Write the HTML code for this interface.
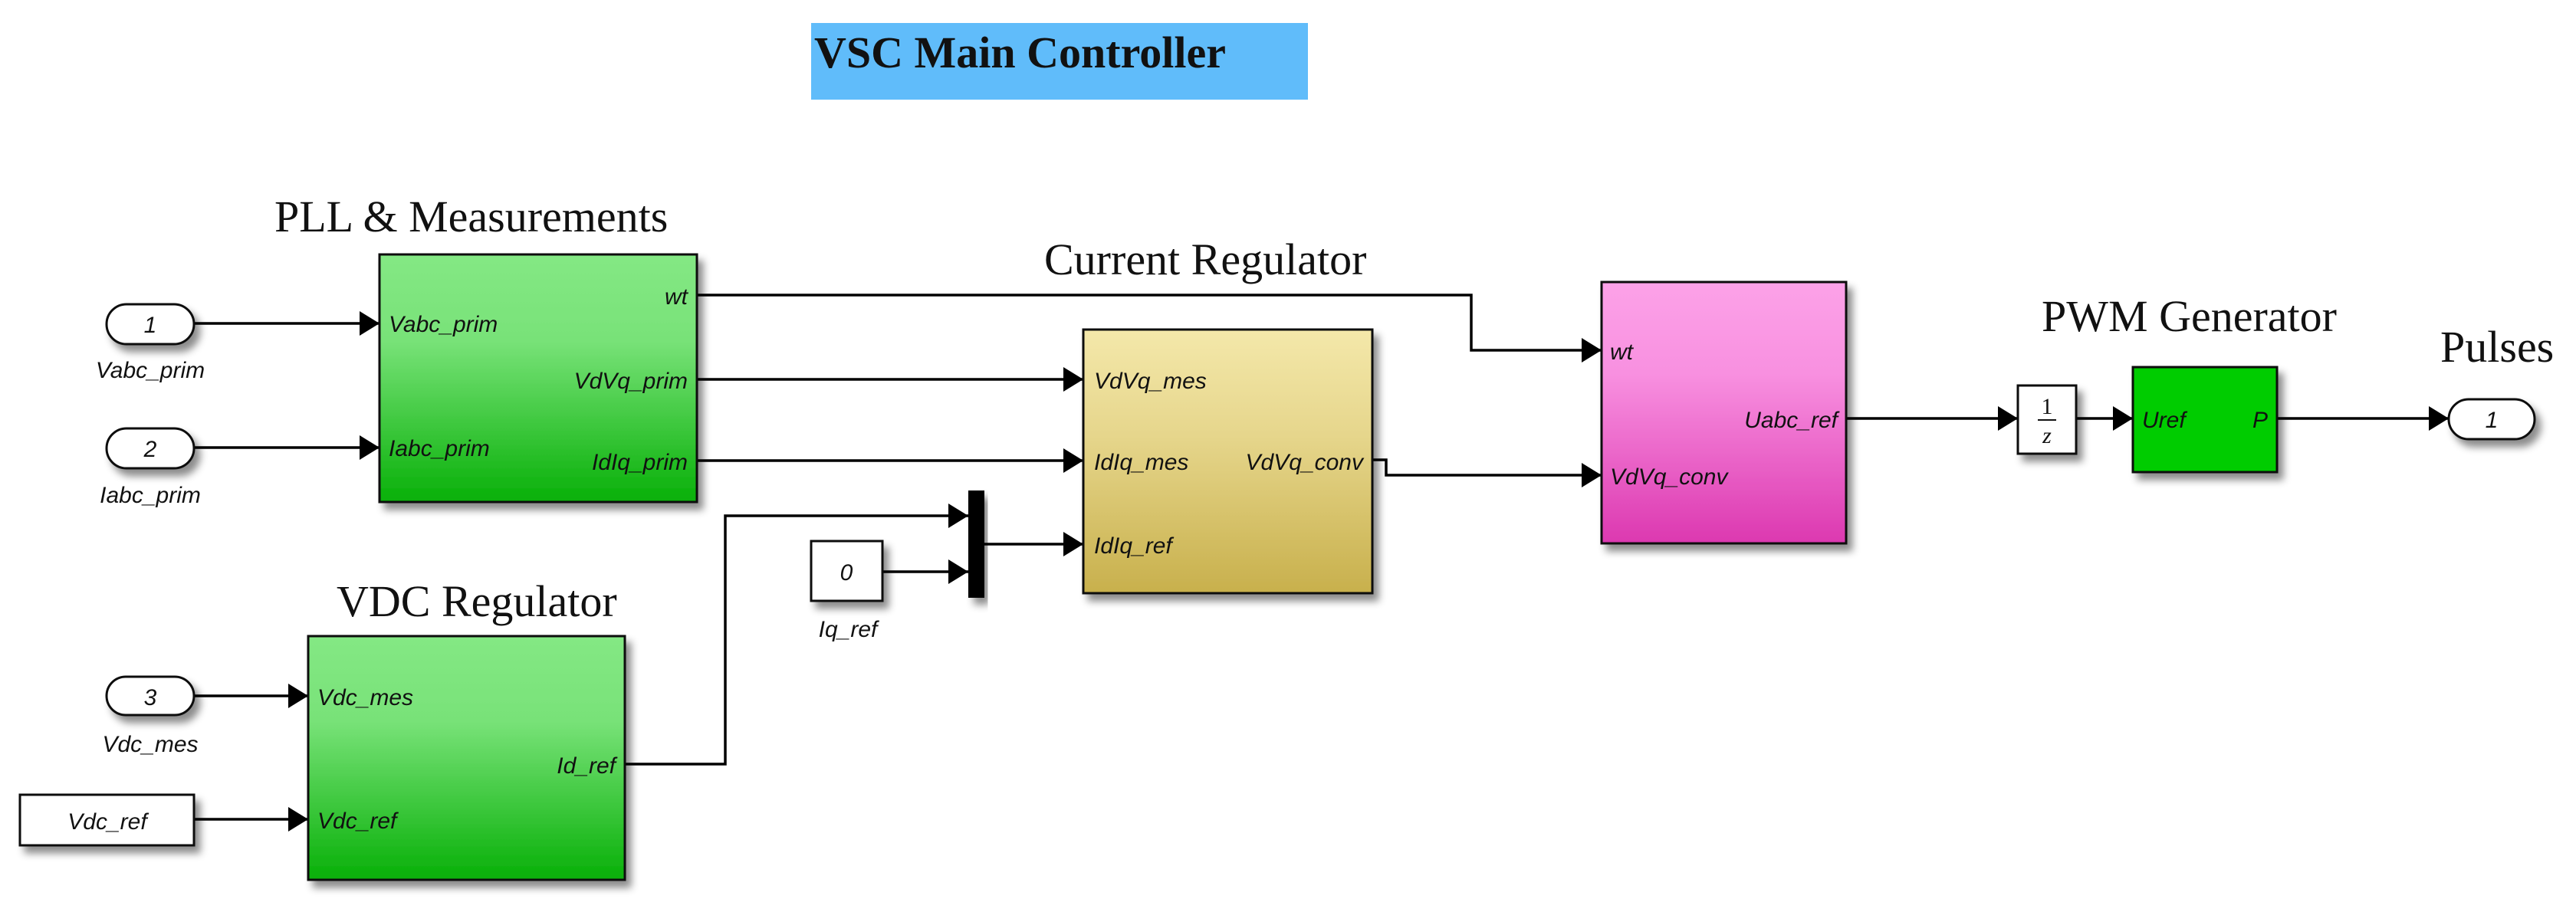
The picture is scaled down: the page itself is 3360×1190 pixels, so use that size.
<!DOCTYPE html>
<html><head><meta charset="utf-8"><style>
html,body{margin:0;padding:0;background:#fff;}
svg{display:block;}
.p{font-family:"Liberation Sans",sans-serif;font-style:italic;font-size:30px;fill:#111;}
.t{font-family:"Liberation Serif",serif;font-size:58px;fill:#111;}
</style></head><body>
<svg width="3360" height="1190" viewBox="0 0 3360 1190" xmlns="http://www.w3.org/2000/svg">
<defs>
<linearGradient id="g" x1="0" y1="0" x2="0" y2="1"><stop offset="0" stop-color="#84e884"/><stop offset="0.35" stop-color="#78e278"/><stop offset="1" stop-color="#08b008"/></linearGradient>
<linearGradient id="y" x1="0" y1="0" x2="0" y2="1"><stop offset="0" stop-color="#f4e8aa"/><stop offset="0.4" stop-color="#e6d68c"/><stop offset="1" stop-color="#c8b04c"/></linearGradient>
<linearGradient id="m" x1="0" y1="0" x2="0" y2="1"><stop offset="0" stop-color="#fca2e8"/><stop offset="0.35" stop-color="#f890e0"/><stop offset="1" stop-color="#dc38b0"/></linearGradient>
<filter id="s" x="-10%" y="-10%" width="130%" height="130%"><feDropShadow dx="7" dy="9" stdDeviation="5" flood-color="#000" flood-opacity="0.45"/></filter>
</defs>
<style>.w{fill:none;stroke:#000;stroke-width:3.5;}</style>
<rect x="1058" y="30" width="648" height="100" fill="#60bcfa"/>
<text x="1062" y="88" font-family="Liberation Serif,serif" font-weight="bold" font-size="58" fill="#111">VSC Main Controller</text>

<text class="t" x="358" y="302">PLL &amp; Measurements</text>
<text class="t" x="1362" y="358">Current Regulator</text>
<text class="t" x="439" y="804">VDC Regulator</text>
<text class="t" x="2663" y="432">PWM Generator</text>
<text class="t" x="3183" y="472">Pulses</text>

<g class="w">
<path d="M253 422 H495" />
<path d="M253 584 H495" />
<path d="M909 385 H1919 V457 H2089"/>
<path d="M909 495 H1413"/>
<path d="M909 601 H1413"/>
<path d="M1284 710 H1413"/>
<path d="M815 997 H946 V673 H1263"/>
<path d="M1151 746 H1263"/>
<path d="M1790 600 H1808 V620 H2089"/>
<path d="M2408 546 H2632"/>
<path d="M2708 546 H2782"/>
<path d="M2970 546 H3194"/>
<path d="M253 908 H402"/>
<path d="M253 1069 H402"/>
</g>
<g fill="#000">
<path d="M495 422 l-26 -16 v32z"/>
<path d="M495 584 l-26 -16 v32z"/>
<path d="M1413 495 l-26 -16 v32z"/>
<path d="M1413 601 l-26 -16 v32z"/>
<path d="M1413 710 l-26 -16 v32z"/>
<path d="M1263 673 l-26 -16 v32z"/>
<path d="M1263 746 l-26 -16 v32z"/>
<path d="M2089 457 l-26 -16 v32z"/>
<path d="M2089 620 l-26 -16 v32z"/>
<path d="M2632 546 l-26 -16 v32z"/>
<path d="M2782 546 l-26 -16 v32z"/>
<path d="M3194 546 l-26 -16 v32z"/>
<path d="M402 908 l-26 -16 v32z"/>
<path d="M402 1069 l-26 -16 v32z"/>
</g>

<g stroke="#111" stroke-width="3" filter="url(#s)">
<rect x="495" y="332" width="414" height="323" fill="url(#g)"/>
<rect x="402" y="830" width="413" height="318" fill="url(#g)"/>
<rect x="1413" y="430" width="377" height="344" fill="url(#y)"/>
<rect x="2089" y="368" width="319" height="341" fill="url(#m)"/>
<rect x="2782" y="479" width="188" height="137" fill="#00cc00"/>
<rect x="2632" y="503" width="76" height="89" fill="#fff"/>
<rect x="1058" y="706" width="93" height="78" fill="#fff"/>
<rect x="26" y="1037" width="227" height="66" fill="#fff"/>
<rect x="139" y="397" width="114" height="52" rx="26" fill="#fff"/>
<rect x="139" y="559" width="114" height="52" rx="26" fill="#fff"/>
<rect x="139" y="883" width="114" height="50" rx="25" fill="#fff"/>
<rect x="3194" y="521" width="112" height="52" rx="26" fill="#fff"/>
</g>
<rect x="1263" y="640" width="21" height="140" fill="#000" filter="url(#s)"/>

<g class="p">
<text x="507" y="433">Vabc_prim</text>
<text x="507" y="595">Iabc_prim</text>
<text x="897" y="397" text-anchor="end">wt</text>
<text x="897" y="507" text-anchor="end">VdVq_prim</text>
<text x="897" y="613" text-anchor="end">IdIq_prim</text>
<text x="1427" y="507">VdVq_mes</text>
<text x="1427" y="613">IdIq_mes</text>
<text x="1427" y="722">IdIq_ref</text>
<text x="1778" y="613" text-anchor="end">VdVq_conv</text>
<text x="2100" y="469">wt</text>
<text x="2100" y="632">VdVq_conv</text>
<text x="2397" y="558" text-anchor="end">Uabc_ref</text>
<text x="2794" y="558">Uref</text>
<text x="2958" y="558" text-anchor="end">P</text>
<text x="414" y="920">Vdc_mes</text>
<text x="414" y="1081">Vdc_ref</text>
<text x="803" y="1009" text-anchor="end">Id_ref</text>
<text x="196" y="434" text-anchor="middle">1</text>
<text x="196" y="596" text-anchor="middle">2</text>
<text x="196" y="920" text-anchor="middle">3</text>
<text x="3250" y="558" text-anchor="middle">1</text>
<text x="1104" y="757" text-anchor="middle">0</text>
<text x="140" y="1082" text-anchor="middle">Vdc_ref</text>
<text x="196" y="493" text-anchor="middle">Vabc_prim</text>
<text x="196" y="656" text-anchor="middle">Iabc_prim</text>
<text x="196" y="981" text-anchor="middle">Vdc_mes</text>
<text x="1106" y="831" text-anchor="middle">Iq_ref</text>
</g>
<text x="2670" y="540" text-anchor="middle" font-family="Liberation Serif,serif" font-size="30" fill="#111">1</text>
<line x1="2658" y1="548" x2="2682" y2="548" stroke="#111" stroke-width="2"/>
<text x="2670" y="578" text-anchor="middle" font-family="Liberation Serif,serif" font-style="italic" font-size="30" fill="#111">z</text>
</svg>
</body></html>
